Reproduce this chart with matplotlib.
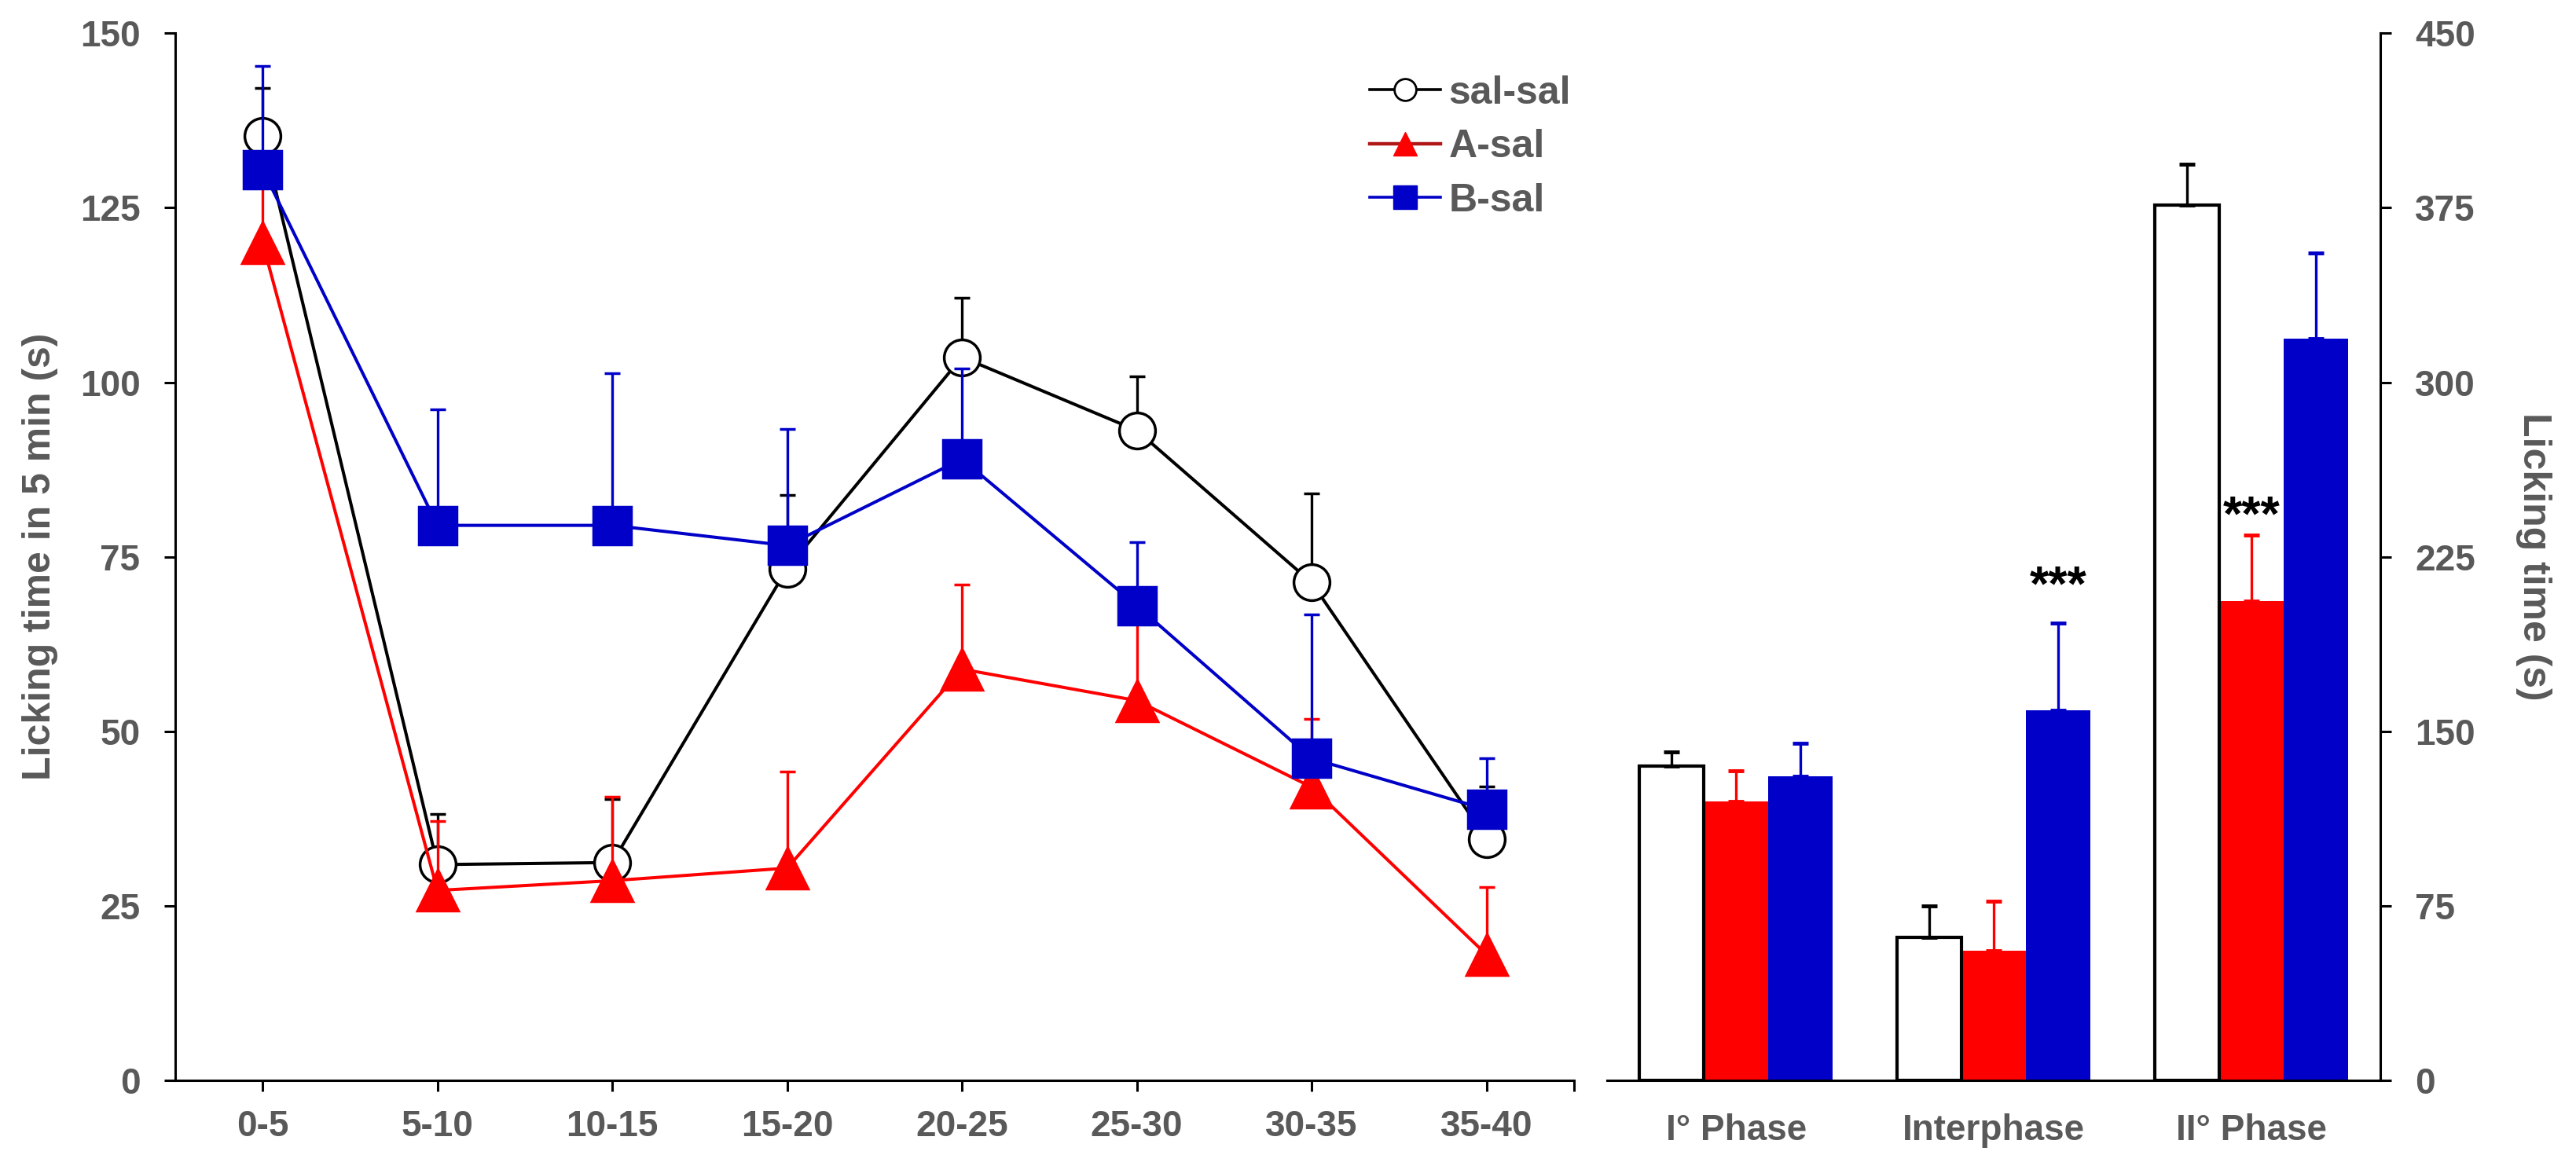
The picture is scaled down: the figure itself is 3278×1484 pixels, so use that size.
import numpy as np
import matplotlib
matplotlib.use("Agg")
import matplotlib.pyplot as plt
from matplotlib.lines import Line2D

plt.rcParams['font.family'] = ['Liberation Sans', 'DejaVu Sans']
plt.rcParams['font.weight'] = 'bold'

# time course data (left panel)
intervals = ["0-5", "5-10", "10-15", "15-20", "20-25", "25-30", "30-35", "35-40"]
salsal_mean = [135.3, 30.9, 31.2, 73.3, 103.6, 93.1, 71.3, 34.6]
salsal_err = [6.8, 7.3, 9.1, 10.5, 8.5, 7.8, 12.8, 7.5]
asal_mean = [120.0, 27.2, 28.6, 30.4, 58.9, 54.4, 42.0, 18.0]
asal_err = [9.0, 9.9, 12.0, 13.8, 12.1, 11.5, 9.8, 9.7]
bsal_mean = [130.5, 79.5, 79.5, 76.6, 89.0, 68.0, 46.1, 38.8]
bsal_err = [14.8, 16.6, 21.8, 16.7, 13.0, 9.1, 20.6, 7.3]

# phase totals (right panel)
phases = ["I\u00b0 Phase", "Interphase", "II\u00b0 Phase"]
bar_salsal = [135.0, 61.5, 376.1]
bar_salsal_err = [6.2, 13.5, 17.6]
bar_asal = [119.8, 55.6, 206.0]
bar_asal_err = [13.1, 21.4, 28.2]
bar_bsal = [130.8, 159.0, 318.8]
bar_bsal_err = [13.9, 37.6, 36.7]

RED = '#FF0000'
BLUE = '#0000C8'
GREY = '#595959'
TICK_FS = 33
LABEL_FS = 36

fig = plt.figure(figsize=(32.78, 14.84), dpi=100)

# ---- left panel: licking time per 5 min ----
ax = fig.add_axes([0.068, 0.0735, 0.543, 0.898])
x = np.arange(len(intervals))

series = [
    ("sal-sal", salsal_mean, salsal_err, 'k', 'o', 'white', 33),
    ("A-sal", asal_mean, asal_err, RED, '^', RED, 37),
    ("B-sal", bsal_mean, bsal_err, BLUE, 's', BLUE, 35),
]
for z, (name, m, e, c, mk, fc, ms) in enumerate(series):
    ax.errorbar(x, m, yerr=[np.zeros(len(e)), e], color=c, lw=2.9,
                marker=mk, markersize=ms, markerfacecolor=fc,
                markeredgecolor=c, markeredgewidth=2.5,
                ecolor=c, elinewidth=2.4, capsize=7.5, capthick=3.5,
                zorder=3 + z)

ax.set_xlim(-0.5, 7.5)
ax.set_ylim(0, 150)
ax.set_xticks(x)
ax.set_xticklabels(intervals)
ax.set_xticks([7.5], minor=True)
ax.set_yticks(np.arange(0, 151, 25))
ax.spines['top'].set_visible(False)
ax.spines['right'].set_visible(False)
for s in ['left', 'bottom']:
    ax.spines[s].set_linewidth(2.2)
ax.tick_params(axis='both', which='both', direction='out', length=10, width=2.2,
               labelsize=TICK_FS, labelcolor=GREY)
ax.tick_params(axis='x', pad=17)
ax.tick_params(axis='y', pad=22)
for lab in ax.get_xticklabels() + ax.get_yticklabels():
    lab.set_fontweight('bold')
ax.set_ylabel("Licking time in 5 min (s)", fontsize=LABEL_FS, fontweight='bold',
              color=GREY, labelpad=20)

# legend handles without error bars
handles = [
    Line2D([], [], color='k', lw=2.6, marker='o', markersize=20, markerfacecolor='white',
           markeredgecolor='k', markeredgewidth=2),
    Line2D([], [], color='#B01818', lw=3.2, marker='^', markersize=22, markerfacecolor=RED,
           markeredgecolor=RED),
    Line2D([], [], color=BLUE, lw=2.6, marker='s', markersize=21, markerfacecolor=BLUE,
           markeredgecolor=BLUE),
]
leg = ax.legend(handles, ["sal-sal", "A-sal", "B-sal"], loc='upper left',
                bbox_to_anchor=(0.843, 0.975), frameon=False, fontsize=LABEL_FS,
                handlelength=1.8, handletextpad=0.2, labelspacing=0.45,
                borderaxespad=0)
for t in leg.get_texts():
    t.set_color(GREY)
    t.set_fontweight('bold')

# ---- right panel: phases ----
bx = fig.add_axes([0.624, 0.0735, 0.300, 0.898])
px = np.arange(len(phases))
w = 0.25
ekw = dict(elinewidth=2.4, capsize=7.5, capthick=3.5)
bx.bar(px - w, bar_salsal, w, color='white', edgecolor='k', linewidth=3,
       yerr=[np.zeros(3), bar_salsal_err], error_kw=dict(ecolor='k', **ekw), zorder=3)
bx.bar(px, bar_asal, w, color=RED, edgecolor=RED, linewidth=0,
       yerr=[np.zeros(3), bar_asal_err], error_kw=dict(ecolor=RED, **ekw), zorder=2)
bx.bar(px + w, bar_bsal, w, color=BLUE, edgecolor=BLUE, linewidth=0,
       yerr=[np.zeros(3), bar_bsal_err], error_kw=dict(ecolor=BLUE, **ekw), zorder=2)

bx.text(px[1] + w, 212, "***", ha='center', va='center', fontsize=45, fontweight='bold', color='k')
bx.text(px[2], 242, "***", ha='center', va='center', fontsize=45, fontweight='bold', color='k')

bx.set_xlim(-0.5, 2.5)
bx.set_ylim(0, 450)
bx.set_xticks(px)
bx.set_xticklabels(phases)
bx.set_yticks(np.arange(0, 451, 75))
bx.yaxis.tick_right()
bx.yaxis.set_label_position('right')
bx.spines['top'].set_visible(False)
bx.spines['left'].set_visible(False)
for s in ['right', 'bottom']:
    bx.spines[s].set_linewidth(2.2)
bx.tick_params(axis='x', length=0, pad=30, labelsize=TICK_FS, labelcolor=GREY)
bx.tick_params(axis='y', direction='out', length=10, width=2.2, pad=22,
               labelsize=TICK_FS, labelcolor=GREY)
for lab in bx.get_xticklabels() + bx.get_yticklabels():
    lab.set_fontweight('bold')
bx.set_ylabel("Licking time (s)", fontsize=LABEL_FS, fontweight='bold', color=GREY,
              rotation=270, labelpad=70)

fig.savefig("out.png", dpi=100)
